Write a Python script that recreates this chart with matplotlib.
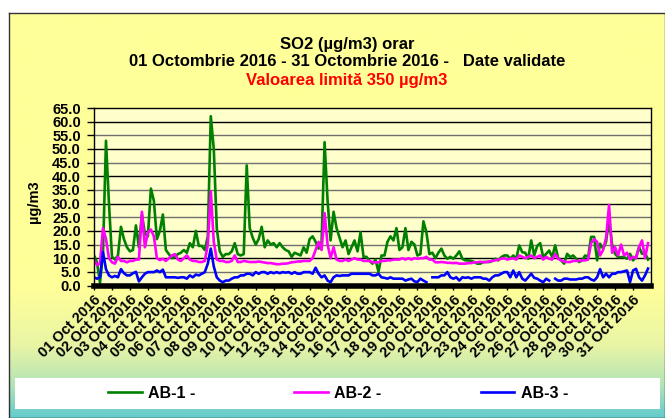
import numpy as np
import matplotlib
matplotlib.use("Agg")
import matplotlib.pyplot as plt
from matplotlib.colors import LinearSegmentedColormap
from matplotlib.patches import Rectangle

plt.rcParams["font.family"] = ["Liberation Sans", "DejaVu Sans"]
plt.rcParams["font.weight"] = "bold"

nan = np.nan
day_labels = ["%02d Oct 2016" % d for d in range(1, 32)]
per_day = 6  # values read every 4 hours

# AB-1 (green)
ab1 = [11, 8.5, 1, 12, 53, 30,  10.5, 9.5, 11, 21.5, 17, 14,  12.5, 13, 22, 14, 26, 19,
       18, 35.5, 31, 17, 20, 26,  13, 11.5, 10, 10.5, 11.5, 12,  13, 12, 15.5, 14, 20, 14.5,
       14.5, 13, 18, 62, 50, 21,  12.5, 10.5, 11.5, 11.5, 12.5, 15.5,  11.5, 11, 11.5, 44, 21, 17.5,
       15, 17, 21.5, 14, 16.5, 15,  15.5, 14, 15.5, 14, 13, 12.5,  10.5, 12, 11.5, 11, 14, 12,
       17, 18, 16, 13.5, 16, 52.5,  31, 16.5, 27, 21, 17.5, 14,  16.5, 11.5, 14, 16.5, 12.5, 19.5,
       10.5, 10.5, 9, 8, 9.5, 5,  11, 11, 16, 18, 16.5, 21,  13, 14, 21, 13, 16, 15,
       11, 11.5, 23.5, 19.5, 11.5, 12,  10, 12, 13.5, 11, 9.8, 10.5,  9.8, 11, 12.5, 9.8, 9.2, 9.2,
       9, 8.6, 8, 8, 8.6, 8.6,  8.6, 9, 9.8, 9.2, 10.4, 11,  11, 9.8, 11, 9.8, 14.7, 12.2,
       12, 9.8, 16.5, 11, 14.5, 15.5,  10.4, 11.6, 12.8, 10.4, 14.7, 10,  9.2, 8, 11.6, 10.4, 11, 9.8,
       8.6, 9.2, 11, 10.4, 17.8, 17.8,  9.2, 15.3, 13.5, 16, 24.5, 15,  11.6, 10.4, 10.4, 10.4, 9.8, 11.6,
       9.2, 10.4, 14, 11.6, 12, 9.5]

# AB-2 (magenta)
ab2 = [9.5, 7.5, 8, 21, 17, 10,  8.5, 8, 10.5, 9, 9, 8.5,  9, 9, 9.5, 9.5, 27, 14,
       19.5, 20.5, 18, 10, 9.3, 9.8,  9, 10, 11, 11.5, 9.5, 9,  10, 11, 9.5, 9, 9, 8.6,
       8.6, 9, 15, 34.5, 16, 9.5,  9, 9, 8.6, 8.6, 9, 11,  8.6, 8.6, 9, 8.8, 8.6, 8.6,
       8.6, 8.8, 8.6, 8.4, 8.2, 8.2,  8, 7.8, 7.8, 8, 8, 8.2,  8.5, 8.6, 8.8, 8.8, 9, 9,
       9, 10, 13, 16, 13, 26.5,  15, 10, 14, 9.5, 9, 9,  9.5, 9, 9.5, 10, 9.5, 9.5,
       9, 9, 9, 8.5, 8.5, 8.5,  9, 9, 9.2, 9.2, 9.5, 9.5,  9.5, 10, 9.5, 10, 9.5, 10,
       9.8, 10, 10, 10.5, 9.5, 9.5,  8.5, 8.5, 8.6, 8.5, 8.3, 8.3,  8.2, 8.3, 8, 8, 8, 8.2,
       8.2, 8.5, 8.5, 8.7, 8.5, 8.6,  8.8, 9, 9.2, 9.5, 9.8, 10,  9.5, 9.8, 10, 9.5, 11, 10.5,
       10, 10.5, 11, 10, 10.5, 11,  9.5, 10.5, 9.8, 9.5, 11.5, 9.8,  9.2, 8.8, 8.6, 8.6, 9, 9,
       9, 9.2, 9.2, 9.5, 15.5, 17,  16, 11, 13, 17.5, 29.5, 12,  14, 11, 15, 11, 12, 9.5,
       10.5, 10, 14, 16.5, 10, 15.5]

# AB-3 (blue)
ab3 = [3, 2.5, 3, 12.2, 6, 3.7,  3, 3.5, 3, 6, 4.5, 3.7,  3.7, 4.5, 5, 1.5, 3, 4.3,
       4.9, 4.9, 4.9, 5.5, 4.9, 5.8,  3, 3, 3, 3, 2.8, 3,  3, 2.5, 3.7, 3, 4, 3.7,
       4.3, 4.9, 8, 13.5, 7, 3,  1.8, 1.2, 1.8, 1.8, 2.5, 3,  3, 3.7, 3.7, 4.3, 4.3, 3.7,
       4.9, 4.3, 4.9, 4.9, 4.3, 4.9,  4.5, 4.9, 4.5, 4.9, 4.7, 4.9,  4.3, 4.9, 4.3, 4.3, 4.9, 4.9,
       4.9, 4.3, 6.5, 4.3, 3, 3.7,  1.8, 1.2, 3, 3.7, 3.5, 3.7,  3.7, 3.7, 4.3, 4.3, 4.3, 4.3,
       4.3, 4.3, 4.3, 3.7, 3.7, 4.3,  3, 2.8, 2.5, 3, 2.5, 2.5,  2.5, 2.5, 1.8, 2.2, 2.5, 1.5,
       1.3, 2.5, 1.8, 1.2, nan, 3,  3, 3, 3.7, 3.7, 4.9, 3,  2.5, 3, 1.8, 3, 2.8, 3,
       2.5, 3, 3, 3, 2.5, 2.5,  1.8, 3, 3.7, 3.7, 4.3, 4.9,  4.9, 3, 5.5, 3, 4.9, 2.5,
       1.8, 3, 4.3, 2.8, 2.5, 1.8,  1.2, 2.5, 1.8, nan, 2.5, 1.8,  1.8, 2.5, 2.5, 2.2, 2.2, 2.2,
       2.5, 2.5, 3, 3, 2.2, 1.8,  3, 6, 3, 4.3, 3, 4.3,  4.3, 4.9, 4.9, 5.2, 5.5, 1.2,
       5.5, 6.1, 3, 1.8, 3.7, 6.2]

series = [("AB-1 -", ab1, "#008000"), ("AB-2 -", ab2, "#FF00FF"), ("AB-3 -", ab3, "#0000FF")]

W, H = 665, 418
fig = plt.figure(figsize=(W / 100, H / 100), dpi=100)

# chart area with vertical gradient
bg = fig.add_axes([9 / W, 0, 656 / W, 405 / H])
cmap = LinearSegmentedColormap.from_list(
    "bg", [(0, "#FFFF99"), (0.68, "#FFFF99"), (0.82, "#EAF5A4"), (0.92, "#B4E4B6"), (1, "#66CCCC")])
bg.imshow(np.linspace(0, 1, 200).reshape(-1, 1), cmap=cmap, aspect="auto", extent=[0, 1, 0, 1])
bg.set_xticks([]); bg.set_yticks([])
for s in bg.spines.values():
    s.set_color("#333333"); s.set_linewidth(1)
bg.add_patch(Rectangle((6 / 656, 9 / 405), 645 / 656, 31 / 405, facecolor="white",
                       edgecolor="none", transform=bg.transAxes))

ax = fig.add_axes([94 / W, 1 - 285.5 / H, 557 / W, 177.5 / H])
ax.set_facecolor("#FFFFCC")
t = np.arange(len(ab1)) / per_day
for name, vals, col in series:
    ax.plot(t, vals, color=col, lw=1.9, label=name)

ax.set_xlim(0, 31)
ax.set_ylim(0, 65)
ax.set_yticks(np.arange(0, 66, 5))
ax.set_yticklabels(["%.1f" % v for v in np.arange(0, 66, 5)], fontsize=10.5, fontweight="bold")
for v in np.arange(5, 61, 5):
    ax.axhline(v, color="black" if v % 10 == 0 else "#707070", lw=1, zorder=0.5)
ax.set_xticks(np.arange(31))
ax.set_xticklabels(day_labels, rotation=45, ha="right", va="top", rotation_mode="anchor",
                   fontsize=10.5, fontweight="bold")
ax.tick_params(axis="y", length=5, width=1, pad=4.5)
ax.tick_params(axis="x", length=3, width=1, pad=2)
for s in ["top", "right", "left"]:
    ax.spines[s].set_linewidth(1)
ax.spines["bottom"].set_linewidth(4)

fig.text(0.522, 1 - 44 / H, "SO2 (µg/m3) orar", ha="center", va="center", fontsize=12, fontweight="bold")
fig.text(0.522, 1 - 62 / H, "01 Octombrie 2016 - 31 Octombrie 2016 -   Date validate",
         ha="center", va="center", fontsize=12, fontweight="bold")
fig.text(0.522, 1 - 80 / H, "Valoarea limită 350 µg/m3", ha="center", va="center",
         fontsize=12, fontweight="bold", color="#FF0000")
fig.text(34 / W, 1 - 202 / H, "µg/m3", rotation=90, ha="center", va="center", fontsize=10.5, fontweight="bold")

fig.legend(loc="center", bbox_to_anchor=(338 / W, 1 - 393 / H), ncol=3, frameon=False,
           fontsize=11.5, handlelength=2.1, handletextpad=0.4, columnspacing=6.2)

fig.savefig("out.png", dpi=100)
plt.close(fig)
